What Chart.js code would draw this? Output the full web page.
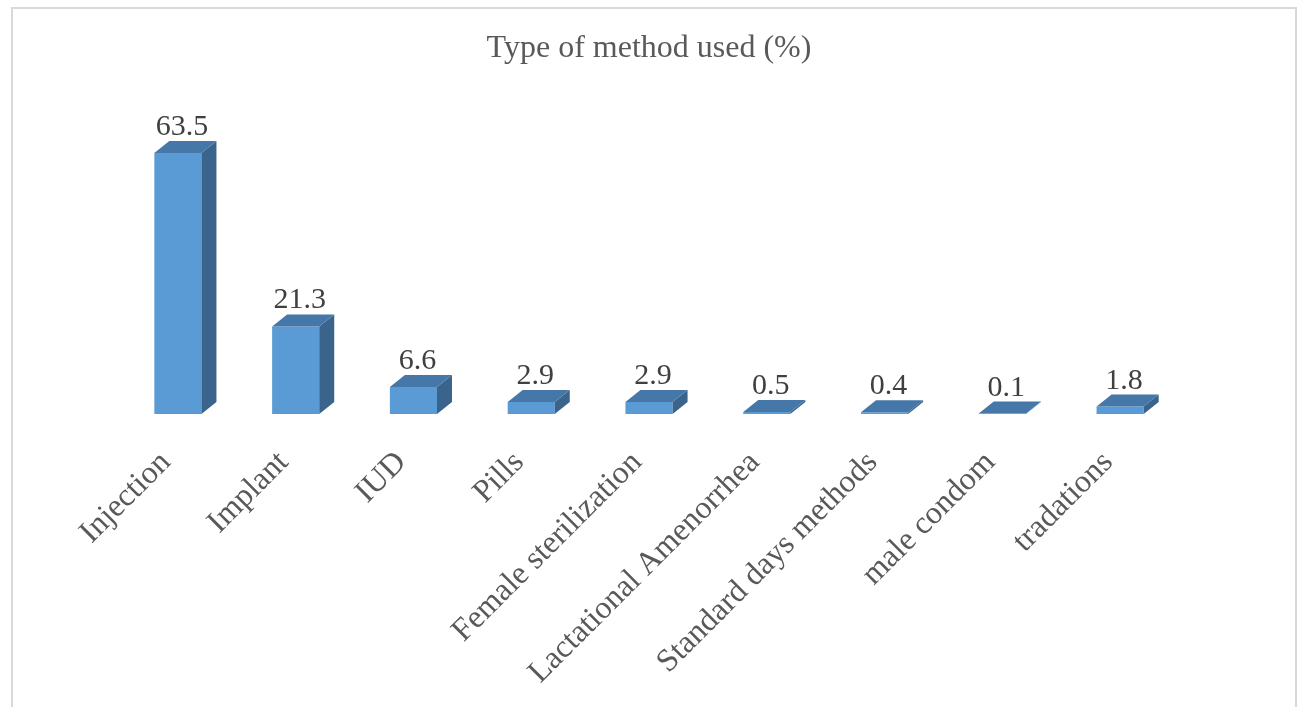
<!DOCTYPE html>
<html>
<head>
<meta charset="utf-8">
<script src="https://cdn.jsdelivr.net/npm/chart.js@4.4.0/dist/chart.umd.min.js"></script>
<style>
  html, body { margin: 0; padding: 0; background: #fff; }
  #wrap { width: 1302px; height: 707px; position: relative; }
</style>
</head>
<body>
<div id="wrap"><canvas id="chart"></canvas></div>
<script>
var methods = ["Injection", "Implant", "IUD", "Pills", "Female sterilization",
  "Lactational Amenorrhea", "Standard days methods", "male condom", "tradations"];
var percents = [63.5, 21.3, 6.6, 2.9, 2.9, 0.5, 0.4, 0.1, 1.8];

var frontColor = "#5b9bd5";
var topColor = "#4577a9";
var sideColor = "#3a648c";
var depthX = 15, depthY = 12;
var serif = "'Liberation Serif', 'Times New Roman', serif";

// fake 3d: side + top faces drawn over the library's bars, plus value labels
var bars3d = {
  id: "bars3d",
  beforeDraw: function (chart) {
    var ctx = chart.ctx;
    ctx.save();
    ctx.strokeStyle = "#d9d9d9";
    ctx.lineWidth = 2;
    ctx.strokeRect(12, 8, 1284, 720);
    ctx.restore();
  },
  afterDatasetsDraw: function (chart) {
    var ctx = chart.ctx;
    var meta = chart.getDatasetMeta(0);
    var data = chart.data.datasets[0].data;
    meta.data.forEach(function (bar, i) {
      var p = bar.getProps(["x", "y", "base", "width"], true);
      var l = p.x - p.width / 2, r = p.x + p.width / 2, t = p.y, b = p.base;
      ctx.save();
      ctx.fillStyle = sideColor;
      ctx.beginPath();
      ctx.moveTo(r, t);
      ctx.lineTo(r + depthX, t - depthY);
      ctx.lineTo(r + depthX, b - depthY);
      ctx.lineTo(r, b);
      ctx.closePath();
      ctx.fill();

      ctx.fillStyle = topColor;
      ctx.beginPath();
      ctx.moveTo(l, t);
      ctx.lineTo(l + depthX, t - depthY);
      ctx.lineTo(r + depthX, t - depthY);
      ctx.lineTo(r, t);
      ctx.closePath();
      ctx.fill();

      ctx.fillStyle = "#404040";
      ctx.font = "30px " + serif;
      ctx.textAlign = "center";
      ctx.textBaseline = "alphabetic";
      ctx.fillText(data[i].toFixed(1), p.x + 4, t - depthY - 6);
      ctx.restore();
    });
  }
};

new Chart(document.getElementById("chart"), {
  type: "bar",
  data: {
    labels: methods,
    datasets: [{
      data: percents,
      backgroundColor: frontColor,
      borderWidth: 0,
      barPercentage: 0.4,
      categoryPercentage: 1.0
    }]
  },
  options: {
    responsive: true,
    maintainAspectRatio: false,
    animation: false,
    layout: { padding: { left: 119, right: 123, top: 0, bottom: 0 } },
    scales: {
      x: {
        grid: { display: false, drawTicks: false },
        border: { display: false },
        ticks: {
          minRotation: 45,
          maxRotation: 45,
          autoSkip: false,
          padding: 30,
          labelOffset: -12,
          color: "#595959",
          font: { family: serif, size: 32 }
        },
        afterFit: function (scale) { scale.height = 293; }
      },
      y: {
        display: false,
        min: 0,
        max: 70
      }
    },
    plugins: {
      legend: { display: false },
      tooltip: { enabled: false },
      title: {
        display: true,
        text: "Type of method used (%)",
        color: "#595959",
        font: { family: serif, size: 32, weight: "normal" },
        padding: { top: 29, bottom: 59 }
      }
    }
  },
  plugins: [bars3d]
});
</script>
</body>
</html>
